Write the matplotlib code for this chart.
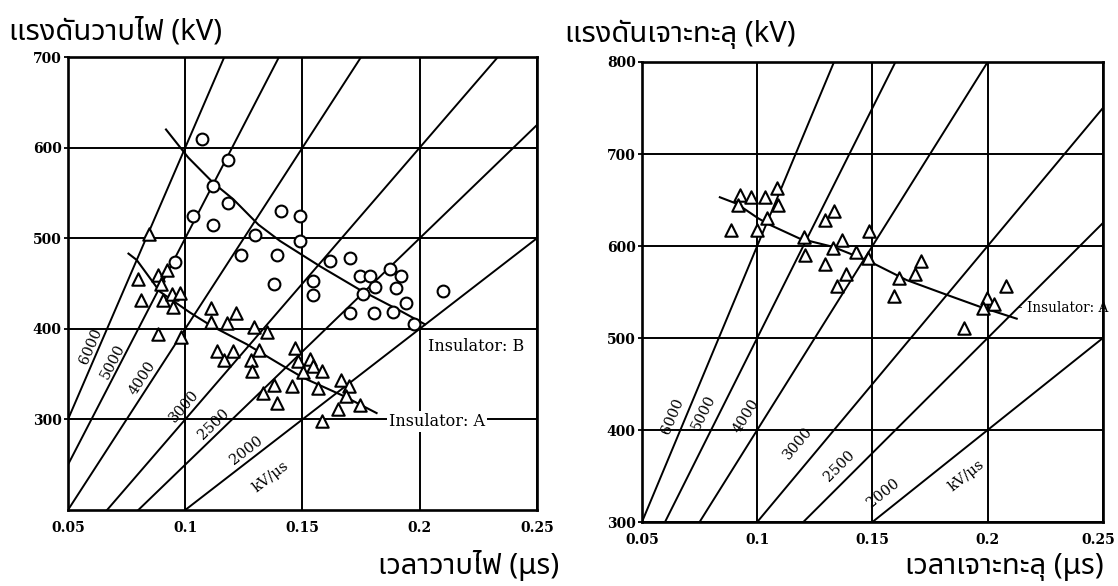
import numpy as np
import matplotlib.pyplot as plt
from matplotlib.transforms import ScaledTranslation

plt.rcParams['font.family'] = ['DejaVu Serif']
THAI = ['Noto Sans Thai', 'Noto Sans Thai Looped', 'Loma', 'Garuda', 'Tlwg Typo',
        'Waree', 'Sawasdee', 'Laksaman', 'Noto Sans', 'DejaVu Sans']

x_ticks = [0.05, 0.1, 0.15, 0.2, 0.25]
x_labels = ['0.05', '0.1', '0.15', '0.2', '0.25']

rates = [6000, 5000, 4000, 3000, 2500, 2000]
rate_texts = ['6000', '5000', '4000', '3000', '2500', '2000', 'kV/μs']
rate_of_text = [6000, 5000, 4000, 3000, 2500, 2000, 2000]

# ---- left: flashover (แรงดันวาบไฟ) ----
fo_b_t = [0.1070, 0.1184, 0.1120, 0.1184, 0.1032, 0.1119, 0.1408, 0.1489, 0.1489, 0.1298,
          0.1238, 0.1393, 0.1380, 0.1617, 0.1702, 0.1545, 0.1745, 0.1786, 0.1809, 0.1873,
          0.1920, 0.1899, 0.2099, 0.1546, 0.1941, 0.1759, 0.1703, 0.1806, 0.1885, 0.1976,
          0.0956]
fo_b_v = [610, 586, 558, 539, 524, 515, 530, 524, 497, 503,
          481, 482, 449, 475, 478, 453, 458, 458, 446, 466,
          458, 445, 442, 437, 429, 438, 417, 417, 418, 405,
          474]

fo_a_t = [0.0847, 0.0800, 0.0885, 0.0923, 0.0897, 0.0811, 0.0906, 0.0942, 0.0978, 0.0946,
          0.1110, 0.0885, 0.0982, 0.1110, 0.1177, 0.1215, 0.1295, 0.1347, 0.1134, 0.1165,
          0.1205, 0.1279, 0.1314, 0.1283, 0.1330, 0.1380, 0.1393, 0.1468, 0.1482, 0.1532,
          0.1546, 0.1503, 0.1582, 0.1454, 0.1567, 0.1664, 0.1700, 0.1686, 0.1653, 0.1745,
          0.1582]
fo_a_v = [505, 455, 459, 465, 449, 432, 432, 438, 439, 424,
          423, 394, 391, 408, 406, 417, 402, 396, 376, 366,
          376, 366, 377, 353, 329, 338, 318, 379, 364, 367,
          359, 352, 353, 337, 335, 344, 337, 326, 312, 316,
          298]

fo_b_curve_t = [0.0918, 0.1013, 0.1120, 0.1205, 0.1312, 0.1404, 0.1575, 0.1745, 0.1916, 0.2022]
fo_b_curve_v = [620, 589, 561, 543, 515, 497, 469, 443, 420, 405]
fo_a_curve_t = [0.0758, 0.0793, 0.0892, 0.1020, 0.1113, 0.1262, 0.1404, 0.1503, 0.1674, 0.1816]
fo_a_curve_v = [483, 476, 441, 418, 403, 383, 361, 346, 326, 307]

fo_lab_t = [0.0598, 0.0690, 0.0815, 0.0995, 0.1122, 0.1259, 0.1366]
fo_lab_v = [381, 364, 346, 315, 295, 266, 237]

# ---- right: puncture (แรงดันเจาะทะลุ) ----
pn_a_t = [0.0925, 0.0973, 0.1034, 0.1086, 0.1091, 0.0917, 0.0886, 0.0998, 0.1041, 0.1201,
          0.1206, 0.1293, 0.1293, 0.1332, 0.1367, 0.1328, 0.1387, 0.1348, 0.1485, 0.1429,
          0.1481, 0.1615, 0.1684, 0.1711, 0.1593, 0.2079, 0.1997, 0.1980, 0.2028, 0.1898]
pn_a_v = [655, 653, 653, 663, 645, 645, 617, 617, 630, 610,
          590, 580, 628, 638, 607, 598, 570, 557, 616, 594,
          587, 565, 570, 584, 546, 557, 544, 533, 537, 511]

pn_curve_t = [0.0838, 0.0911, 0.1005, 0.1055, 0.1185, 0.1330, 0.1489, 0.1648, 0.1822, 0.1966, 0.2126]
pn_curve_v = [653, 646, 630, 623, 608, 599, 583, 563, 547, 534, 521]

pn_lab_t = [0.0632, 0.0766, 0.0952, 0.1177, 0.1355, 0.1546, 0.1910]
pn_lab_v = [415, 419, 415, 386, 361, 331, 350]


fig = plt.figure(figsize=(11.18, 5.86), dpi=100)
axL = fig.add_axes([0.0608, 0.1297, 0.4195, 0.773])
axR = fig.add_axes([0.5742, 0.1092, 0.4123, 0.785])


def setup(ax, ylo, yhi, yticks):
    ax.set_xlim(0.05, 0.25)
    ax.set_ylim(ylo, yhi)
    ax.set_xticks(x_ticks, x_labels)
    ax.set_yticks(yticks, [str(v) for v in yticks])
    ax.grid(True, color='black', lw=1.4)
    ax.set_axisbelow(True)
    ax.tick_params(axis='x', length=0, pad=8, labelsize=10)
    ax.tick_params(axis='y', length=3, width=1.3, pad=1.5, labelsize=10)
    for s in ax.spines.values():
        s.set_linewidth(1.9)
    for lbl in ax.get_xticklabels() + ax.get_yticklabels():
        lbl.set_fontweight('bold')
    for r in rates:
        ax.axline((0, 0), slope=r, color='black', lw=1.4, zorder=1)


def rate_labels(ax, ts, vs):
    for txt, r, t, v in zip(rate_texts, rate_of_text, ts, vs):
        p = ax.transData.transform([(0.1, 0.1 * r), (0.2, 0.2 * r)])
        ang = np.degrees(np.arctan2(p[1, 1] - p[0, 1], p[1, 0] - p[0, 0]))
        ax.text(t, v, txt, rotation=ang, rotation_mode='anchor', ha='center', va='center',
                fontsize=10.5, zorder=4)


setup(axL, 200, 700, [300, 400, 500, 600, 700])
setup(axR, 300, 800, [300, 400, 500, 600, 700, 800])

# keep the last x label of the right chart inside the picture
last = axR.xaxis.get_major_ticks()[-1].label1
last.set_transform(last.get_transform() + ScaledTranslation(-5 / 100, 0, fig.dpi_scale_trans))

axL.plot(fo_b_curve_t, fo_b_curve_v, color='black', lw=1.5, zorder=2)
axL.plot(fo_a_curve_t, fo_a_curve_v, color='black', lw=1.5, zorder=2)
axL.scatter(fo_b_t, fo_b_v, s=72, marker='o', facecolor='white', edgecolor='black', lw=1.5, zorder=3)
axL.scatter(fo_a_t, fo_a_v, s=80, marker='^', facecolor='white', edgecolor='black', lw=1.5, zorder=3)
rate_labels(axL, fo_lab_t, fo_lab_v)
axL.text(0.2034, 380, 'Insulator: B', ha='left', va='center', fontsize=11.5)
axL.text(0.1869, 298, 'Insulator: A', ha='left', va='center', fontsize=11.5,
         bbox=dict(fc='white', ec='none', pad=1.5), zorder=4)

axR.plot(pn_curve_t, pn_curve_v, color='black', lw=1.5, zorder=2)
axR.scatter(pn_a_t, pn_a_v, s=80, marker='^', facecolor='white', edgecolor='black', lw=1.5, zorder=3)
rate_labels(axR, pn_lab_t, pn_lab_v)
axR.text(0.2131, 533, '- Insulator: A', ha='left', va='center', fontsize=9.8, clip_on=False)

fig.text(0.008, 0.932, 'แรงดันวาบไฟ (kV)', family=THAI, fontsize=21, va='baseline', ha='left')
fig.text(0.505, 0.928, 'แรงดันเจาะทะลุ (kV)', family=THAI, fontsize=21, va='baseline', ha='left')
fig.text(0.5, 0.02, 'เวลาวาบไฟ (μs)', family=THAI, fontsize=21, va='baseline', ha='right')
fig.text(0.9875, 0.02, 'เวลาเจาะทะลุ (μs)', family=THAI, fontsize=21, va='baseline', ha='right')

fig.savefig('out.png', dpi=100)
